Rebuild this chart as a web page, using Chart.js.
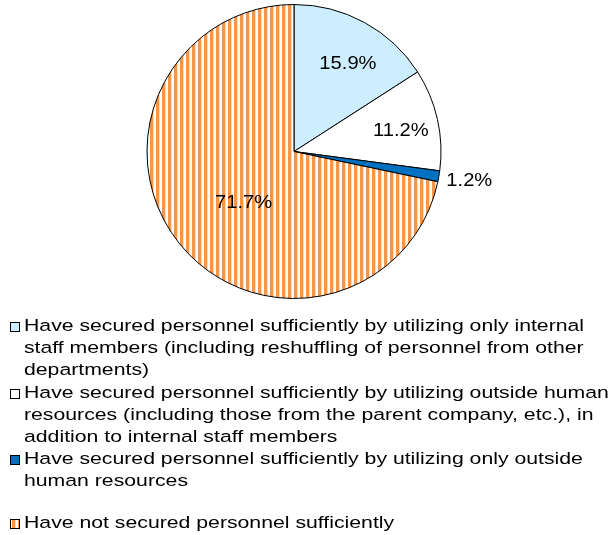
<!DOCTYPE html>
<html>
<head>
<meta charset="utf-8">
<script src="https://cdn.jsdelivr.net/npm/chart.js@4"></script>
<style>
  html, body { margin: 0; padding: 0; background: #fff; }
  canvas { display: block; }
</style>
</head>
<body>
<canvas id="pie" width="611" height="535"></canvas>
<script>
// 항목 (범례 줄바꿈 그대로)
var categories = [
    ['Have secured personnel sufficiently by utilizing only internal',
     'staff members (including reshuffling of personnel from other',
     'departments)'],
    ['Have secured personnel sufficiently by utilizing outside human',
     'resources (including those from the parent company, etc.), in',
     'addition to internal staff members'],
    ['Have secured personnel sufficiently by utilizing only outside',
     'human resources'],
    ['Have not secured personnel sufficiently']
];
var shares = [15.9, 11.2, 1.2, 71.7];

// 라벨 위치 (반지름 비율, 각도 보정)
var labelRadius = [0.70, 0.74, 1.21, 0.49];
var labelAngleShift = [3, 2, 0, -6.6];
var legendBaselines = [331, 398, 464, 528];

var FONT = "'Liberation Sans', Arial, sans-serif";

// 글자를 가로로 늘려 그리기 (원본 글꼴 폭에 맞춤)
function wideText(c, text, x, y, sx) {
    c.save();
    c.translate(x, y);
    c.scale(sx, 1);
    c.fillText(text, 0, 0);
    c.restore();
}

// 주황 세로 줄무늬 패턴
function stripePattern() {
    var c = document.createElement('canvas');
    c.width = 6; c.height = 6;
    var g = c.getContext('2d');
    g.fillStyle = '#ffffff';
    g.fillRect(0, 0, 6, 6);
    g.fillStyle = '#f79646';
    g.fillRect(0, 0, 3, 6);
    g.globalAlpha = 0.35;
    g.fillRect(3, 0, 1, 6);
    return g.createPattern(c, 'repeat');
}

var canvas = document.getElementById('pie');
var ctx = canvas.getContext('2d');
var fills = ['#cceeff', '#ffffff', '#0070c0', stripePattern()];

var sliceLabels = {
    id: 'sliceLabels',
    afterDatasetsDraw: function (chart) {
        var c = chart.ctx;
        var meta = chart.getDatasetMeta(0);
        c.save();
        c.font = '17.7px ' + FONT;
        c.fillStyle = '#000';
        c.textAlign = 'center';
        c.textBaseline = 'middle';
        meta.data.forEach(function (arc, i) {
            var mid = (arc.startAngle + arc.endAngle) / 2 + labelAngleShift[i] * Math.PI / 180;
            var r = arc.outerRadius * labelRadius[i];
            wideText(c, shares[i].toFixed(1) + '%', arc.x + Math.cos(mid) * r, arc.y + Math.sin(mid) * r, 1.14);
        });
        c.restore();
    }
};

var sideLegend = {
    id: 'sideLegend',
    afterDraw: function (chart) {
        var c = chart.ctx;
        c.save();
        c.font = '17.2px ' + FONT;
        c.textBaseline = 'alphabetic';
        c.textAlign = 'left';
        categories.forEach(function (lines, i) {
            var base = legendBaselines[i];
            c.fillStyle = fills[i];
            c.fillRect(10.5, base - 8.5, 9, 9);
            c.strokeStyle = '#000';
            c.lineWidth = 1;
            c.strokeRect(10.5, base - 8.5, 9, 9);
            c.fillStyle = '#000';
            lines.forEach(function (t, j) {
                wideText(c, t, 24, base + j * 22.2, 1.235);
            });
        });
        c.restore();
    }
};

new Chart(ctx, {
    type: 'pie',
    data: {
        labels: categories,
        datasets: [{
            data: shares,
            backgroundColor: fills,
            borderColor: '#000',
            borderWidth: 1,
            hoverOffset: 0
        }]
    },
    options: {
        responsive: false,
        animation: false,
        events: [],
        layout: { padding: { top: 4, bottom: 236, left: 0, right: 23 } },
        plugins: {
            legend: { display: false },
            tooltip: { enabled: false }
        }
    },
    plugins: [sliceLabels, sideLegend]
});
</script>
</body>
</html>
